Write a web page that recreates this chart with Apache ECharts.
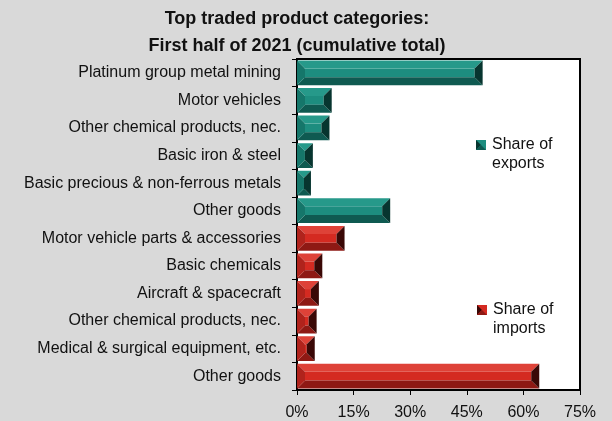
<!DOCTYPE html>
<html>
<head>
<meta charset="utf-8">
<script src="https://cdn.jsdelivr.net/npm/echarts@6/dist/echarts.min.js"></script>
<style>
  html, body { margin: 0; padding: 0; background: #d9d9d9; }
  #chart { width: 612px; height: 421px; }
</style>
</head>
<body>
<div id="chart"></div>
<script>
// categories top to bottom
const categories = [
  'Platinum group metal mining',
  'Motor vehicles',
  'Other chemical products, nec.',
  'Basic iron & steel',
  'Basic precious & non-ferrous metals',
  'Other goods',
  'Motor vehicle parts & accessories',
  'Basic chemicals',
  'Aircraft & spacecraft',
  'Other chemical products, nec.',
  'Medical & surgical equipment, etc.',
  'Other goods'
]
// share of exports (first 6 rows), share of imports (last 6 rows), in %
const exportShare = [49.2, 9.2, 8.6, 4.2, 3.7, 24.7]
const importShare = [12.6, 6.7, 5.8, 5.2, 4.7, 64.2]
const xTicks = [0, 15, 30, 45, 60, 75]
const legendNames = ['Share of\nexports', 'Share of\nimports']

const tealShades = { face: '#1d8d7f', top: '#26998a', bottom: '#0f5a51', left: '#15766a', right: '#07352f' }
const redShades = { face: '#d42a21', top: '#de4238', bottom: '#8e1914', left: '#b0231c', right: '#3a0806' }

function bevelRenderer(shades) {
  return function (params, api) {
    const row = api.value(1)
    const start = api.coord([0, row])
    const end = api.coord([api.value(0), row])
    const h = api.size([0, 1])[1] * 0.9
    const x0 = start[0]
    const x1 = end[0]
    const yT = start[1] - h / 2
    const yB = start[1] + h / 2
    const d = Math.min(8, h / 2, (x1 - x0) / 2)
    const poly = (points, fill) => ({ type: 'polygon', shape: { points }, style: { fill } })
    return {
      type: 'group',
      children: [
        poly([[x0 + d, yT + d], [x1 - d, yT + d], [x1 - d, yB - d], [x0 + d, yB - d]], shades.face),
        poly([[x0, yT], [x1, yT], [x1 - d, yT + d], [x0 + d, yT + d]], shades.top),
        poly([[x0, yB], [x1, yB], [x1 - d, yB - d], [x0 + d, yB - d]], shades.bottom),
        poly([[x0, yT], [x0 + d, yT + d], [x0 + d, yB - d], [x0, yB]], shades.left),
        poly([[x1, yT], [x1 - d, yT + d], [x1 - d, yB - d], [x1, yB]], shades.right)
      ]
    }
  }
}

// small bevelled legend key with two-line text
function legendKey(x, y, name, shades) {
  return {
    type: 'group',
    left: x,
    top: y,
    children: [
      { type: 'rect', shape: { x: 0, y: 0, width: 10, height: 10 }, style: { fill: shades.face } },
      { type: 'polygon', shape: { points: [[0, 0], [5, 5], [0, 10]] }, style: { fill: shades.right } },
      { type: 'polygon', shape: { points: [[0, 10], [5, 5], [10, 10]] }, style: { fill: shades.bottom } },
      {
        type: 'text',
        x: 16,
        y: -5,
        style: { text: name, fontSize: 16, lineHeight: 19, fill: '#111', fontFamily }
      }
    ]
  }
}

const chart = echarts.init(document.getElementById('chart'), null, { renderer: 'canvas' })

const fontFamily = 'Liberation Sans, Arial, sans-serif'

const option = {
  backgroundColor: '#d9d9d9',
  textStyle: { fontFamily },
  title: {
    text: 'Top traded product categories:\nFirst half of 2021 (cumulative total)',
    left: 292,
    textAlign: 'center',
    top: 1,
    textStyle: { fontSize: 18, fontWeight: 'bold', color: '#111', lineHeight: 27, fontFamily }
  },
  graphic: [
    legendKey(476, 135, legendNames[0], tealShades),
    legendKey(477, 300, legendNames[1], redShades)
  ],
  grid: {
    left: 297,
    right: 32,
    top: 59,
    bottom: 31,
    show: true,
    backgroundColor: '#ffffff',
    borderColor: '#000',
    borderWidth: 2
  },
  xAxis: {
    type: 'value',
    min: xTicks[0],
    max: xTicks[xTicks.length - 1],
    interval: 15,
    axisLine: { show: true, lineStyle: { color: '#000', width: 1 } },
    axisTick: { show: true, length: 5, lineStyle: { color: '#000' } },
    splitLine: { show: false },
    axisLabel: { formatter: '{value}%', fontSize: 16, color: '#111', margin: 15, fontFamily }
  },
  yAxis: {
    type: 'category',
    data: categories,
    inverse: true,
    axisLine: { show: true, lineStyle: { color: '#000', width: 1 } },
    axisTick: { show: true, length: 5, alignWithLabel: false, lineStyle: { color: '#000' } },
    axisLabel: { fontSize: 16, color: '#111', margin: 16, fontFamily }
  },
  series: [
    {
      name: legendNames[0],
      type: 'custom',
      renderItem: bevelRenderer(tealShades),
      itemStyle: { color: tealShades.face },
      encode: { x: 0, y: 1 },
      data: exportShare.map((v, i) => [v, i])
    },
    {
      name: legendNames[1],
      type: 'custom',
      renderItem: bevelRenderer(redShades),
      itemStyle: { color: redShades.face },
      encode: { x: 0, y: 1 },
      data: importShare.map((v, i) => [v, i + exportShare.length])
    }
  ]
}

chart.setOption(option)
</script>
</body>
</html>
